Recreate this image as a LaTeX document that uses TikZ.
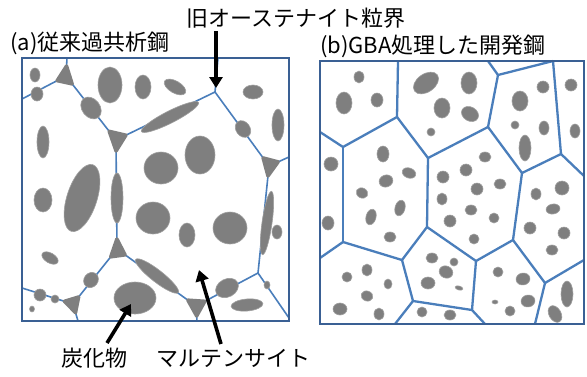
\documentclass[tikz,border=0pt]{standalone}
\usepackage{fontspec}
\newfontfamily\jp{Noto Sans CJK JP}
\usetikzlibrary{arrows.meta, calc}

\definecolor{gbblue}{RGB}{74,126,187}
\definecolor{boxblue}{RGB}{58,96,148}
\definecolor{carbgray}{RGB}{127,127,127}

\begin{document}
\begin{tikzpicture}[
        x=1pt, y=-1pt,
        frame/.style = {draw=boxblue, line width=2.4pt},
        gbline/.style = {draw=gbblue, line width=1.6pt},
        gbthick/.style = {draw=gbblue, line width=2.3pt},
        carbide/.style = {fill=carbgray, draw=carbgray!75, line width=0.6pt},
        nodecarb/.style = {fill=carbgray, draw=carbgray, line width=3.5pt, line join=round},
        lbl/.style = {font=\jp\fontsize{22}{26}\selectfont, inner sep=0pt, anchor=west},
        pointer/.style = {-{Triangle[width=13pt, length=11pt]}, line width=3.6pt}
    ]
    \useasboundingbox[fill=white] (0,0) rectangle (587,376);

    % (a) conventional steel: junctions, then where boundaries meet the frame
    \foreach \n/\p in {1/{215,92}, 2/{116,140}, 3/{269,166}, 4/{258,273},
                       5/{196,306}, 6/{117,249}, 7/{66,76}, 8/{73,304},
                       9/{218,58}, 10/{289,157}, 11/{289,318}, 12/{197,321},
                       13/{78,321}, 14/{22,288}, 15/{22,99}, 16/{67,58}}
        \coordinate (l\n) at (\p);
    \foreach \u/\v in {1/9, 1/2, 1/3, 3/10, 3/4, 4/11, 4/5, 5/12, 5/6, 6/2,
                       2/7, 7/16, 7/15, 6/8, 8/13, 8/14}
        \draw[gbline] (l\u) -- (l\v);
    % carbides sitting on the triple junctions
    \foreach \j/\a/\b/\c/\s in {2/1/7/6/11pt, 3/1/10/4/10pt, 5/4/12/6/10pt,
                                6/2/5/8/10pt, 7/16/2/15/10pt, 8/6/13/14/9pt}
        \filldraw[nodecarb] ($(l\j)!\s!(l\a)$) -- ($(l\j)!\s!(l\b)$)
            -- ($(l\j)!\s!(l\c)$) -- cycle;
    \foreach \x/\y/\a/\b/\r in {
            35/75/5/7/0, 37/94/6/7/0, 110/85/12/18/0, 143/87/8/12/0, 175/87/12/6/-30,
            253/92/10/7/0, 91/108/12/9/-52, 278/125/6/16/0, 243/129/9/7/-54,
            170/117/32/6/27, 43/142/6/16/0, 200/155/15/19/0, 161/168/17/16/0,
            82/198/15/35/-18, 43/200/9/12/0, 117/198/6/25/0, 153/218/17/16/0,
            187/235/8/12/0, 230/228/17/16/0, 267/223/5/32/-8, 277/232/5/7/0,
            50/258/9/5/-30, 157/276/27/6/-38, 91/280/8/7/51, 227/288/12/9/28,
            267/285/3/4/0, 135/298/21/16/0, 40/295/6/6/0, 55/299/4/4/0,
            32/309/2.5/3/0, 247/305/16/6/5}
        \fill[carbide] (\x,\y) ellipse [x radius=\a, y radius=\b, rotate=\r];
    \draw[frame] (22,58) rectangle (289,321);

    % (b) GBA treated steel
    \foreach \n/\p in {A/{398,62}, B/{397,117}, C/{343,147}, D/{320,132},
                       E/{343,242}, F/{320,258}, G/{402,260}, H/{427,227},
                       I/{428,158}, K/{488,127}, L/{498,75}, M/{488,61},
                       N/{553,61}, O/{561,154}, P/{522,173}, Q/{584,176},
                       R/{513,240}, S/{476,261}, T/{545,283}, U/{584,260},
                       V/{535,324}, W/{472,310}, X/{485,324}, Y/{413,301},
                       Z/{395,324}}
        \coordinate (r\n) at (\p);
    \foreach \u/\v in {A/B, B/C, C/D, C/E, E/F, E/G, G/H, H/I, I/B, I/K,
                       K/L, L/M, L/N, N/O, K/P, P/O, O/Q, P/R, H/S, R/S,
                       R/T, T/U, T/V, S/W, W/X, W/Y, Y/G, Y/Z}
        \draw[gbthick] (r\u) -- (r\v);
    \foreach \x/\y/\a/\b/\r in {
            359/77/5/6/0, 344/103/8/11/0, 377/100/6/7/0,
            426/83/14/9/35, 469/83/8/11/0, 442/108/8/10/0, 470/114/9/7/-30, 431/132/4/4/0,
            543/87/6/6/0, 520/101/8/10/0, 515/125/4/4/0, 544/128/5/7/0, 525/148/6/13/0,
            571/85/6/6/0, 575/131/5/7/0, 331/164/7/7/0, 328/223/6/7/0,
            383/154/6/8/0, 409/173/7/5/-20, 386/181/7/6/20, 362/193/6/5/-30,
            400/208/5/8/-15, 371/217/5/8/-15, 390/237/6/5/0,
            485/157/6/5/0, 466/170/6/6/0, 443/177/6/6/0, 500/184/6/5/0, 477/189/6/6/0,
            442/199/5/6/0, 471/210/6/5/0, 494/218/5/5/0, 450/221/6/6/0, 474/239/5/5/0,
            562/188/7/7/0, 536/194/5/6/0, 553/209/7/5/10, 530/228/6/6/0, 564/233/6/6/0,
            552/250/6/5/0,
            367/270/5/6/0, 347/277/5/5/0, 388/284/4/5/0, 367/296/6/5/-20, 340/309/7/6/0,
            379/314/5/6/0,
            432/258/6/5/0, 454/262/4/4/0, 446/272/7/6/-25, 428/283/7/6/0, 459/288/4/2/-15,
            422/312/5/5/0, 450/315/6/5/0,
            498/272/5/5/0, 523/279/7/6/10, 495/302/3/2/0, 528/301/7/6/10, 510/311/5/5/0,
            567/294/6/13/0, 555/314/6/9/30}
        \fill[carbide] (\x,\y) ellipse [x radius=\a, y radius=\b, rotate=\r];
    \draw[frame] (320,61) rectangle (584,324);

    % labels and pointers
    \node[lbl] (gbl) at (186,18) {旧オーステナイト粒界};
    \node[lbl] (ta) at (10,43) {(a)従来過共析鋼};
    \node[lbl] (tb) at (320,46) {(b)GBA処理した開発鋼};
    \node[lbl] (carb) at (61,358) {炭化物};
    \node[lbl] (mart) at (156,358) {マルテンサイト};

    \coordinate (gbtail) at (216,31);
    \coordinate (gbtip) at (216,88);
    \coordinate (carbtail) at (107,343);
    \coordinate (carbtip) at (131,304);
    \coordinate (marttail) at (221,344);
    \coordinate (marttip) at (199,270);
    \draw[pointer] (gbtail) -- (gbtip);
    \draw[pointer] (carbtail) -- (carbtip);
    \draw[pointer] (marttail) -- (marttip);
\end{tikzpicture}
\end{document}
